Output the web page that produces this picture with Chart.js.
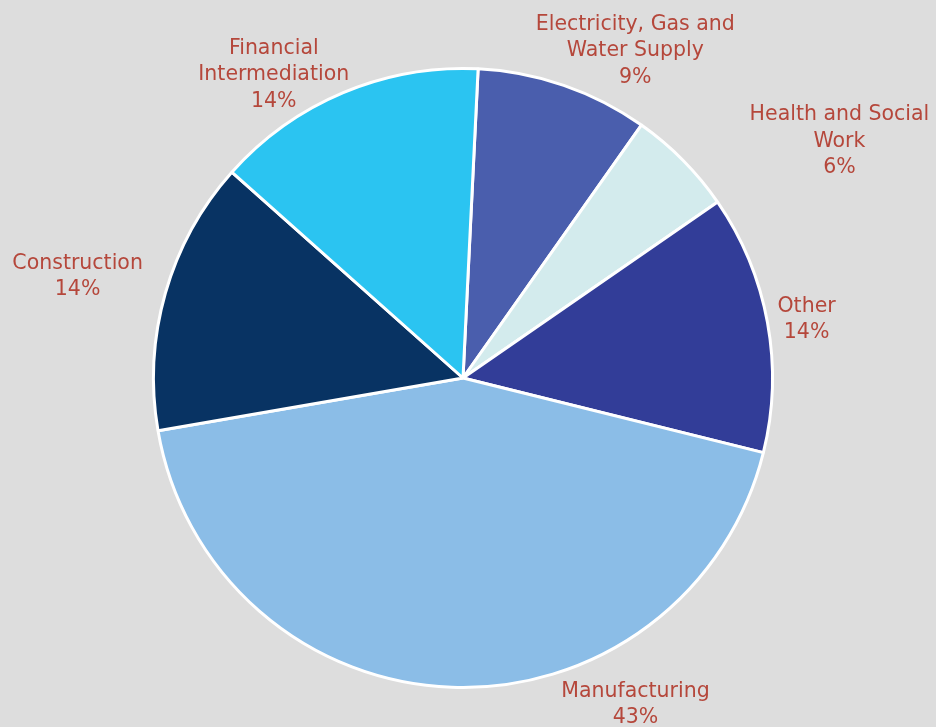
<!DOCTYPE html>
<html>
<head>
<meta charset="utf-8">
<script src="https://cdn.jsdelivr.net/npm/chart.js@4"></script>
<style>
  html, body { margin: 0; padding: 0; background: #dddddd; }
  #wrap { width: 936px; height: 727px; }
</style>
</head>
<body>
<div id="wrap"><canvas id="myChart"></canvas></div>
<script>
var sectors = [
  ["Electricity, Gas and", "Water Supply"],
  ["Health and Social", "Work"],
  ["Other"],
  ["Manufacturing"],
  ["Construction"],
  ["Financial", "Intermediation"]
];
var shares = [9.0, 5.6, 13.5, 43.4, 14.3, 14.2];
var sliceColors = ["#4a5ead", "#d3ebed", "#323d98", "#8bbde7", "#083363", "#2bc4f1"];

// label placement: angle nudge (deg) from slice middle, distance beyond the rim (px)
var labelNudge = [8.8, 12.6, 0.7, -29.9, -1.2, -9.2];
var labelGap = [60, 135, 39, 60, 89, 48];

var total = shares.reduce(function (a, b) { return a + b; }, 0);

var outsideLabels = {
  id: "outsideLabels",
  afterDatasetsDraw: function (chart) {
    var ctx = chart.ctx;
    var arcs = chart.getDatasetMeta(0).data;
    ctx.save();
    ctx.font = "20.5px 'DejaVu Sans', Verdana, sans-serif";
    ctx.fillStyle = "#b5473b";
    ctx.textAlign = "center";
    ctx.textBaseline = "middle";
    arcs.forEach(function (arc, i) {
      var mid = (arc.startAngle + arc.endAngle) / 2 + labelNudge[i] * Math.PI / 180;
      var dist = arc.outerRadius + labelGap[i];
      var cx = arc.x + Math.cos(mid) * dist;
      var cy = arc.y + Math.sin(mid) * dist;
      var lines = sectors[i].concat([Math.round(shares[i] / total * 100) + "%"]);
      var lh = 26.5;
      var top = cy - (lines.length - 1) * lh / 2;
      lines.forEach(function (t, k) {
        ctx.fillText(t, cx, top + k * lh);
      });
    });
    ctx.restore();
  }
};

new Chart("myChart", {
  type: "pie",
  data: {
    labels: sectors.map(function (s) { return s.join(" "); }),
    datasets: [
      {
        data: shares,
        backgroundColor: sliceColors,
        borderColor: "#ffffff",
        borderWidth: 3
      }
    ]
  },
  options: {
    responsive: true,
    maintainAspectRatio: false,
    animation: false,
    rotation: 2.8,
    layout: { padding: { top: 67, bottom: 38, left: 152, right: 162 } },
    plugins: {
      legend: { display: false },
      tooltip: { enabled: false }
    }
  },
  plugins: [outsideLabels]
});
</script>
</body>
</html>
